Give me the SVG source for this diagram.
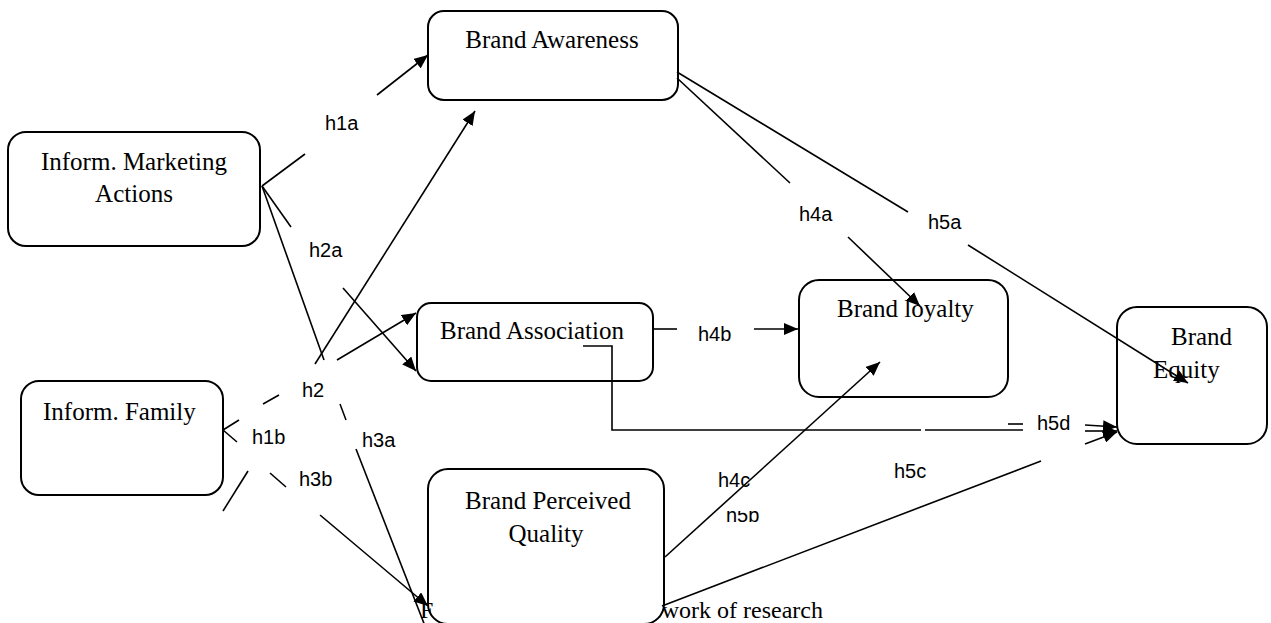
<svg xmlns="http://www.w3.org/2000/svg" width="1271" height="623" viewBox="0 0 1271 623">
<style>
.box{fill:#fff;stroke:#000;stroke-width:2}
.nt{font-family:"Liberation Serif","Times New Roman",serif;font-size:25px;fill:#000}
.cap{font-family:"Liberation Serif","Times New Roman",serif;font-size:24px;fill:#000}
.lb{font-family:"Liberation Sans",Arial,sans-serif;font-size:20px;fill:#000}
.ln{fill:none;stroke:#000;stroke-width:1.6}
.ar{marker-end:url(#ah)}
</style>
<defs>
<marker id="ah" markerUnits="userSpaceOnUse" markerWidth="15" markerHeight="12" refX="14" refY="6" orient="auto" viewBox="0 0 15 12">
<path d="M0,0 L14,6 L0,12 z" fill="#000"/>
</marker>
</defs>
<rect width="1271" height="623" fill="#fff"/>

<g id="caption-back">
<text class="cap" x="823" y="618" text-anchor="end">ework of research</text>
</g>

<g id="n-awareness">
<rect class="box" x="428" y="11" width="250" height="89" rx="16"/>
<text class="nt" x="552" y="48" text-anchor="middle">Brand Awareness</text>
</g>
<g id="n-marketing">
<rect class="box" x="8" y="132" width="252" height="114" rx="18"/>
<text class="nt" x="134" y="170" text-anchor="middle">Inform. Marketing</text>
<text class="nt" x="134" y="202" text-anchor="middle">Actions</text>
</g>
<g id="n-association">
<rect class="box" x="417" y="303" width="236" height="78" rx="14"/>
<text class="nt" x="440" y="339">Brand Association</text>
</g>
<g id="n-loyalty">
<rect class="box" x="799" y="280" width="209" height="117" rx="20"/>
<text class="nt" x="837" y="317">Brand loyalty</text>
</g>
<g id="n-equity">
<rect class="box" x="1117" y="307" width="150" height="137" rx="20"/>
<text class="nt" x="1171" y="345">Brand</text>
<text class="nt" x="1153" y="378">Equity</text>
</g>
<g id="n-family">
<rect class="box" x="21" y="381" width="202" height="114" rx="18"/>
<text class="nt" x="43" y="420">Inform. Family</text>
</g>
<g id="n-quality">
<rect class="box" x="428" y="469" width="236" height="155" rx="20"/>
<text class="nt" x="548" y="509" text-anchor="middle">Brand Perceived</text>
<text class="nt" x="546" y="542" text-anchor="middle">Quality</text>
</g>

<g id="labels">
<text class="lb" x="325" y="130">h1a</text>
<text class="lb" x="309" y="257">h2a</text>
<text class="lb" x="302" y="397">h2</text>
<text class="lb" x="252" y="444">h1b</text>
<text class="lb" x="299" y="486">h3b</text>
<text class="lb" x="362" y="447">h3a</text>
<text class="lb" x="799" y="221">h4a</text>
<text class="lb" x="928" y="229">h5a</text>
<text class="lb" x="698" y="341">h4b</text>
<text class="lb" x="726" y="522">h5b</text>
<rect x="712" y="466" width="58" height="45" fill="#fff"/>
<text class="lb" x="718" y="487">h4c</text>
<text class="lb" x="894" y="478">h5c</text>
<text class="lb" x="1037" y="430">h5d</text>
</g>

<g id="connectors">
<!-- h1a -->
<line class="ln" x1="262" y1="186" x2="305" y2="154"/>
<line class="ln ar" x1="377" y1="95" x2="428" y2="55"/>
<!-- h2a -->
<line class="ln" x1="262" y1="186" x2="291" y2="227"/>
<line class="ln ar" x1="343" y1="288" x2="416" y2="371"/>
<!-- h3a -->
<line class="ln" x1="262" y1="186" x2="324" y2="360"/>
<line class="ln" x1="340" y1="404" x2="346" y2="420"/>
<line class="ln" x1="356" y1="449" x2="425" y2="626"/>
<!-- h2 to Brand Awareness -->
<line class="ln ar" x1="315" y1="364" x2="475" y2="111"/>
<!-- h2 to Brand Association / Inform. Family -->
<line class="ln" x1="223" y1="430" x2="239" y2="420"/>
<line class="ln" x1="263" y1="404" x2="279" y2="395"/>
<line class="ln ar" x1="337" y1="360" x2="416" y2="313"/>
<!-- h3b -->
<line class="ln" x1="223" y1="430" x2="237" y2="442"/>
<line class="ln" x1="270" y1="473" x2="286" y2="487"/>
<line class="ln ar" x1="320" y1="515" x2="428" y2="606"/>
<!-- h1b lower stroke -->
<line class="ln" x1="248" y1="471" x2="223" y2="511"/>
<!-- h4a -->
<line class="ln" x1="677" y1="78" x2="790" y2="183"/>
<line class="ln ar" x1="848" y1="237" x2="920" y2="306"/>
<!-- h5a -->
<line class="ln" x1="677" y1="72" x2="908" y2="212"/>
<line class="ln ar" x1="968" y1="245" x2="1188" y2="383"/>
<!-- h4b -->
<line class="ln" x1="652" y1="329" x2="677" y2="329"/>
<line class="ln ar" x1="754" y1="329" x2="798" y2="329"/>
<!-- h5d -->
<path class="ln" d="M583,346 H612 V430 H921"/>
<line class="ln" x1="925" y1="430" x2="1023" y2="430"/>
<line class="ln" x1="1008" y1="424" x2="1023" y2="424"/>
<line class="ln ar" x1="1085" y1="425" x2="1117" y2="427"/>
<line class="ln ar" x1="1085" y1="431" x2="1117" y2="431"/>
<!-- h4c -->
<line class="ln ar" x1="665" y1="557" x2="880" y2="362"/>
<!-- h5c -->
<line class="ln" x1="662" y1="606" x2="1041" y2="461"/>
<line class="ln ar" x1="1085" y1="444" x2="1117" y2="432"/>
</g>

<g id="caption-front">
<text class="cap" x="420" y="618">F</text>
</g>
</svg>
